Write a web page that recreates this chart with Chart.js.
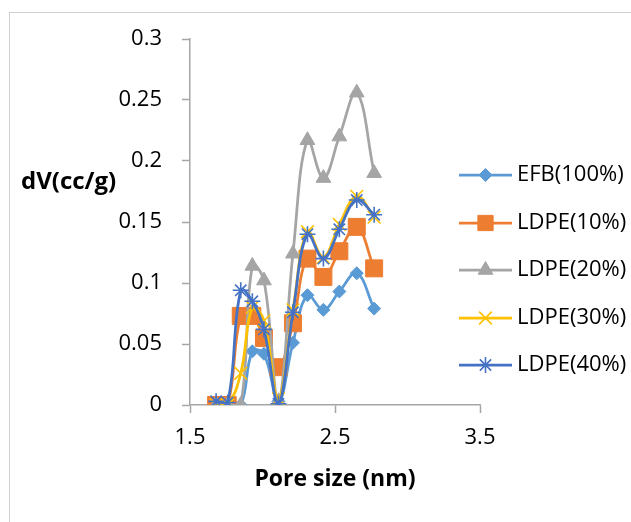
<!DOCTYPE html>
<html><head><meta charset="utf-8">
<script src="https://cdn.jsdelivr.net/npm/chart.js@4.4.0/dist/chart.umd.min.js"></script>
<style>html,body{margin:0;padding:0;background:#fff;overflow:hidden}#wrap{position:relative;width:631px;height:522px}</style>
</head><body><div id="wrap"><canvas id="c" width="631" height="522"></canvas></div>
<script>
// ---- data ----
const poreSize = [1.68, 1.76, 1.85, 1.93, 2.01, 2.11, 2.21, 2.31, 2.42, 2.53, 2.65, 2.77];
const efb100 = [0, 0, 0, 0.044, 0.042, 0.003, 0.051, 0.090, 0.078, 0.093, 0.108, 0.079];
const ldpe10 = [0, 0, 0.073, 0.073, 0.055, 0.031, 0.067, 0.120, 0.105, 0.126, 0.146, 0.112];
const ldpe20 = [0, 0, 0, 0.114, 0.102, 0.003, 0.124, 0.217, 0.186, 0.220, 0.256, 0.190];
const ldpe30 = [0, 0, 0.026, 0.080, 0.069, 0.005, 0.078, 0.142, 0.121, 0.148, 0.171, 0.154];
const ldpe40 = [0.003, 0.002, 0.094, 0.085, 0.062, 0.001, 0.076, 0.140, 0.120, 0.144, 0.168, 0.156];
const seriesNames = ['EFB(100%)', 'LDPE(10%)', 'LDPE(20%)', 'LDPE(30%)', 'LDPE(40%)'];
const xTicks = [1.5, 2.5, 3.5];
const yTicks = [0, 0.05, 0.1, 0.15, 0.2, 0.25, 0.3];
const xTitle = 'Pore size (nm)';
const yTitle = 'dV(cc/g)';

const seriesValues = [efb100, ldpe10, ldpe20, ldpe30, ldpe40];
const colors = ['#5B9BD5', '#ED7D31', '#A5A5A5', '#FFC000', '#4472C4'];
const styles = ['rectRot', 'rect', 'triangle', 'crossRot', 'star'];
const radii = [6.5, 12, 8.5, 9, 8];
const axisColor = '#A6A6A6';
const FONT = '"Open Sans", Lato, sans-serif';

const datasets = seriesValues.map((vals, i) => ({
  label: seriesNames[i],
  data: poreSize.map((x, k) => ({x: x, y: vals[k]})),
  borderColor: colors[i],
  backgroundColor: colors[i],
  borderWidth: 2.75,
  tension: 0.4,
  pointStyle: styles[i],
  pointRadius: radii[i],
  pointHoverRadius: radii[i],
  pointBorderWidth: (styles[i] === 'crossRot' || styles[i] === 'star') ? 1.6 : 1,
  pointBackgroundColor: colors[i],
  pointBorderColor: colors[i],
  order: 4 - i,
  fill: false
}));

const decor = {
  id: 'decor',
  beforeDraw(chart) {
    const ctx = chart.ctx;
    ctx.save();
    ctx.fillStyle = '#fff';
    ctx.fillRect(0, 0, chart.width, chart.height);
    ctx.strokeStyle = '#D0D0D0';
    ctx.lineWidth = 1;
    ctx.strokeRect(9.5, 12.5, 800, 700);
    ctx.restore();
  },
  afterDraw(chart) {
    const ctx = chart.ctx;
    ctx.save();
    ctx.fillStyle = '#000';
    ctx.textBaseline = 'middle';
    ctx.font = 'bold 24px ' + FONT;
    ctx.textAlign = 'left';
    ctx.fillText(yTitle, 21, 182);
    ctx.font = 'bold 23px ' + FONT;
    ctx.textAlign = 'center';
    ctx.fillText(xTitle, 335, 479);
    // legend
    const rows = [175, 223, 270, 318, 365];
    const helpers = Chart.helpers;
    datasets.forEach((d, i) => {
      const y = rows[i];
      ctx.strokeStyle = colors[i];
      ctx.fillStyle = colors[i];
      ctx.lineWidth = 2.75;
      ctx.beginPath();
      ctx.moveTo(459, y);
      ctx.lineTo(512, y);
      ctx.stroke();
      ctx.lineWidth = d.pointBorderWidth;
      if (helpers && helpers.drawPoint) {
        helpers.drawPoint(ctx, {pointStyle: styles[i], radius: radii[i] * (i === 1 ? 0.9 : 1), rotation: 0, borderWidth: d.pointBorderWidth}, 485.5, y);
      }
      ctx.fillStyle = '#000';
      ctx.font = '22px ' + FONT;
      ctx.textAlign = 'left';
      ctx.fillText(seriesNames[i], 517, y);
    });
    ctx.restore();
  }
};

new Chart(document.getElementById('c'), {
  type: 'line',
  data: {datasets: datasets},
  options: {
    responsive: false,
    animation: false,
    layout: {padding: {left: 0, top: 39, right: 151, bottom: 0}},
    plugins: {legend: {display: false}, tooltip: {enabled: false}},
    scales: {
      x: {
        type: 'linear', min: 1.5, max: 3.5,
        afterBuildTicks: s => { s.ticks = xTicks.map(v => ({value: v})); },
        afterFit: s => { s.height = 117; },
        grid: {display: true, drawOnChartArea: false, drawTicks: true, tickLength: 8, tickColor: axisColor, tickWidth: 1.5},
        border: {display: true, color: axisColor, width: 1.5},
        ticks: {color: '#000', font: {family: FONT, size: 22}, padding: 12, maxRotation: 0, callback: v => String(v)}
      },
      y: {
        type: 'linear', min: 0, max: 0.3,
        afterBuildTicks: s => { s.ticks = yTicks.map(v => ({value: v})); },
        afterFit: s => { s.width = 190; },
        grid: {display: true, drawOnChartArea: false, drawTicks: true, tickLength: 8, tickColor: axisColor, tickWidth: 1.5},
        border: {display: true, color: axisColor, width: 1.5},
        ticks: {color: '#000', font: {family: FONT, size: 22}, padding: 20, callback: v => String(v)}
      }
    }
  },
  plugins: [decor]
});
</script>
</body></html>
